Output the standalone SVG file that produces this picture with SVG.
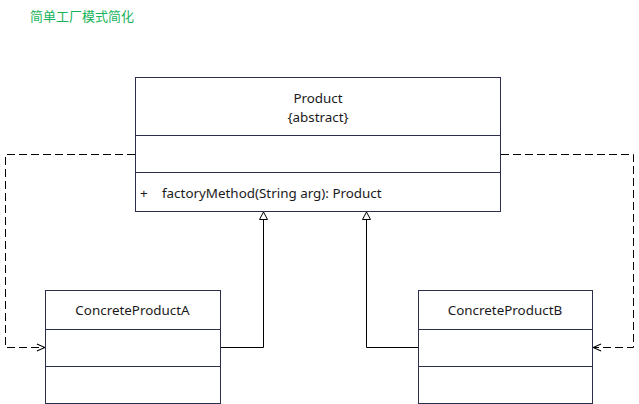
<svg xmlns="http://www.w3.org/2000/svg" width="639" height="404" viewBox="0 0 639 404">
<defs>
<marker id="open" viewBox="0 0 10 10" refX="10" refY="5" markerWidth="9" markerHeight="9" markerUnits="userSpaceOnUse" orient="auto">
<path d="M1,1 L10,5 L1,9" fill="none" stroke="#000" stroke-width="1.2"/>
</marker>
</defs>
<style>
.box{fill:#fff;stroke:#2b2f4c;stroke-width:1}
.div{stroke:#2b2f4c;stroke-width:1}
.t{font-family:"Noto Sans","Open Sans","Liberation Sans",sans-serif;font-size:13.4px;fill:#1a1a1a}
.c{text-anchor:middle}
.dash{fill:none;stroke:#000;stroke-width:1;stroke-dasharray:8,4}
.sol{fill:none;stroke:#000;stroke-width:1}
.tri{fill:#fff;stroke:#000;stroke-width:1}
</style>
<rect width="639" height="404" fill="#fff"/>
<text x="30" y="21" font-family="'Noto Sans CJK SC',sans-serif" font-size="13" fill="#17b35a">简单工厂模式简化</text>
<g id="Product">
<rect class="box" x="135.5" y="77.5" width="365" height="134"/>
<line class="div" x1="135.5" y1="135.5" x2="500.5" y2="135.5"/>
<line class="div" x1="135.5" y1="172.5" x2="500.5" y2="172.5"/>
<text class="t c" x="318" y="103">Product</text>
<text class="t c" x="318" y="122">{abstract}</text>
<text class="t" x="140" y="198">+</text>
<text class="t" x="162" y="198">factoryMethod(String arg): Product</text>
</g>
<g id="ConcreteProductA">
<rect class="box" x="45.5" y="290.5" width="175" height="113"/>
<line class="div" x1="45.5" y1="329.5" x2="220.5" y2="329.5"/>
<line class="div" x1="45.5" y1="366.5" x2="220.5" y2="366.5"/>
<text class="t c" x="132.5" y="315">ConcreteProductA</text>
</g>
<g id="ConcreteProductB">
<rect class="box" x="418.5" y="290.5" width="174" height="113"/>
<line class="div" x1="418.5" y1="329.5" x2="592.5" y2="329.5"/>
<line class="div" x1="418.5" y1="366.5" x2="592.5" y2="366.5"/>
<text class="t c" x="505" y="315">ConcreteProductB</text>
</g>
<g id="connectors">
<path class="dash" d="M135,154.5 H5.5 V347.5 H45" marker-end="url(#open)"/>
<path class="dash" d="M501,154.5 H633.5 V347.5 H593" marker-end="url(#open)"/>
<path class="sol" d="M221,347.5 H263.5 V219"/>
<path class="tri" d="M263.5,212 L259.5,219.5 L267.5,219.5 Z"/>
<path class="sol" d="M418,347.5 H366.5 V219"/>
<path class="tri" d="M366.5,212 L362.5,219.5 L370.5,219.5 Z"/>
</g>
</svg>
